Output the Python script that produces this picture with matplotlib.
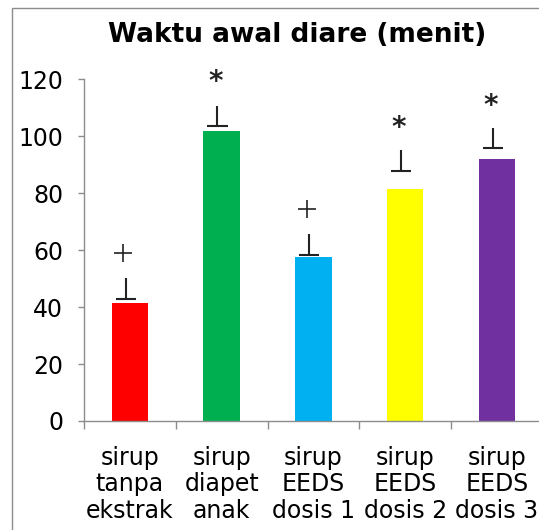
import matplotlib
matplotlib.use("Agg")
import matplotlib.pyplot as plt
from matplotlib.patches import Rectangle
import numpy as np

categories = ["sirup\ntanpa\nekstrak", "sirup\ndiapet\nanak", "sirup\nEEDS\ndosis 1",
              "sirup\nEEDS\ndosis 2", "sirup\nEEDS\ndosis 3"]
values = [41.3, 101.9, 57.6, 81.5, 92.0]
colors = ["#FF0000", "#00B050", "#00B0F0", "#FFFF00", "#7030A0"]
err_base = [42.9, 103.7, 58.4, 87.9, 95.9]
err_len = [7.3, 7.0, 7.2, 7.2, 7.1]
marks = ["+", "*", "+", "*", "*"]
mark_y = [59.1, 120.9, 74.5, 104.6, 112.4]
yticks = [0, 20, 40, 60, 80, 100, 120]
title = "Waktu awal diare (menit)"

W, H = 539, 530
fig = plt.figure(figsize=(W / 100, H / 100), dpi=100)
plt.rcParams['font.family'] = ['DejaVu Sans']

# outer frame
fig.patches.append(Rectangle((12 / W, -0.05), 1.2, (H - 8) / H + 0.05, transform=fig.transFigure,
                             fill=False, edgecolor="#8c8c8c", linewidth=1.0))

ax = fig.add_axes([84 / W, 109 / H, 458.75 / W, (421 - 79.3) / H])
x = np.arange(len(values))
ax.bar(x, values, width=0.40, color=colors, zorder=2)

gray = "#8c8c8c"
for s in ["top", "right"]:
    ax.spines[s].set_visible(False)
for s in ["left", "bottom"]:
    ax.spines[s].set_color(gray)
    ax.spines[s].set_linewidth(1.0)

ax.set_xlim(-0.5, len(values) - 0.5)
ax.set_ylim(0, 120)
ax.set_yticks(yticks)
ax.set_yticklabels([str(v) for v in yticks], fontsize=17)
ax.tick_params(axis="y", direction="out", length=4, width=1.0, color=gray, pad=11)
ax.set_xticks(x)
ax.set_xticklabels(categories, fontsize=17, linespacing=1.12)
ax.tick_params(axis="x", which="major", length=0, pad=18)
ax.set_xticks(np.arange(len(values) + 1) - 0.5, minor=True)
ax.tick_params(axis="x", which="minor", direction="out", length=6, width=1.0, color=gray)

# error symbols (inverted T) and significance marks
off = -0.045
cap = 0.11
for xi, b, l in zip(x, err_base, err_len):
    ax.plot([xi + off - cap, xi + off + cap], [b, b], color="#222222", lw=1.5,
            solid_capstyle="butt", zorder=3, clip_on=False)
    ax.plot([xi + off, xi + off], [b, b + l], color="#222222", lw=1.5,
            solid_capstyle="butt", zorder=3, clip_on=False)

for xi, m, my in zip(x, marks, mark_y):
    if m == "+":
        ax.plot([xi - 0.07], [my], marker="+", markersize=13, mew=1.2, color="#222222",
                clip_on=False, zorder=3)
    else:
        ax.text(xi - 0.07, my - 0.8, m, fontsize=20, fontweight="bold", ha="center",
                va="center_baseline", color="#222222", clip_on=False, zorder=3)

fig.text(297.5 / W, 1 - 35 / H, title, fontsize=19, fontweight="bold",
         ha="center", va="center")

fig.savefig("out.png", dpi=100)
